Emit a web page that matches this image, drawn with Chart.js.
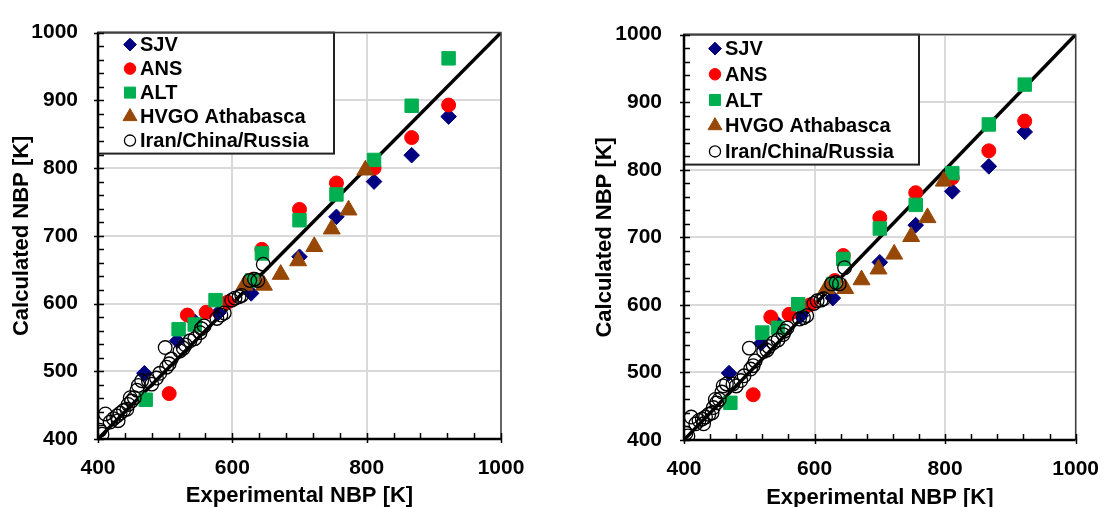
<!DOCTYPE html>
<html>
<head>
<meta charset="utf-8">
<script src="https://cdn.jsdelivr.net/npm/chart.js@4.4.1/dist/chart.umd.min.js"></script>
<style>
  html, body { margin: 0; padding: 0; background: #fff; width: 1116px; height: 507px; overflow: hidden; }
  canvas { position: absolute; top: 0; }
  #panelA { left: 0; }
  #panelB { left: 558px; }
</style>
</head>
<body>
<canvas id="panelA" width="558" height="507"></canvas>
<canvas id="panelB" width="558" height="507"></canvas>
<script>
// ---- Axis ticks ----
const xTickValues = [400, 600, 800, 1000];
const yTickValues = [400, 500, 600, 700, 800, 900, 1000];
const parityLine = [400, 1000];

// ---- SJV ----
const sjvExp   = [469, 518, 544, 579, 628, 700, 755, 811, 867, 922];
const sjvCalcA = [497, 545, 573, 586, 615, 669, 728, 780, 819, 876];
const sjvCalcB = [499, 543, 571, 584, 610, 663, 718, 768, 805, 856];

// ---- ANS ----
const ansExp   = [506, 533, 561, 593, 631, 644, 700, 755, 811, 867, 922];
const ansCalcA = [467, 583, 587, 602, 636, 680, 739, 778, 800, 845, 893];
const ansCalcB = [467, 582, 586, 600, 636, 673, 729, 766, 788, 828, 872];

// ---- ALT ----
const altExp   = [471, 520, 544, 575, 629, 644, 700, 755, 811, 867, 922];
const altCalcA = [458, 562, 569, 605, 634, 674, 723, 761, 812, 892, 962];
const altCalcB = [455, 559, 566, 601, 631, 668, 713, 748, 795, 867, 926];

// ---- HVGO Athabasca ----
const hvgoExp   = [618, 647, 672, 698, 722, 748, 773, 798];
const hvgoCalcA = [627, 627, 643, 663, 684, 710, 738, 797];
const hvgoCalcB = [624, 624, 637, 653, 675, 701, 729, 783];

// ---- Iran/China/Russia ----
const icrExp = [403, 406, 411, 418, 423, 428, 430, 433, 438, 443, 445, 448, 450, 454, 458,
                460, 465, 475, 480, 487, 492, 500, 502, 506, 509, 522, 527, 530, 537, 544,
                552, 554, 558, 577, 583, 588, 599, 604, 610, 614, 626, 633, 638, 646];
const icrCalcA = [413, 407, 437, 425, 430, 434, 427, 438, 442, 444, 451, 461, 456, 461, 472,
                  479, 486, 486, 481, 490, 497, 535, 506, 511, 518, 530, 534, 539, 545, 548,
                  557, 563, 567, 578, 583, 586, 605, 608, 610, 612, 634, 636, 634, 658];
const icrCalcB = [410, 406, 434, 424, 429, 431, 424, 434, 438, 440, 448, 460, 455, 460, 471,
                  480, 483, 483, 480, 488, 495, 536, 505, 510, 517, 531, 533, 538, 544, 548,
                  556, 561, 566, 579, 581, 584, 602, 606, 607, 609, 631, 633, 631, 655];

const FONT = "Arial, 'Liberation Sans', sans-serif";

function pts(xs, ys) { return xs.map((x, i) => ({ x: x, y: ys[i] })); }

function makeDatasets(sjv, ans, alt, hvgo, icr) {
  return [
    { label: 'SJV', data: pts(sjvExp, sjv), pointStyle: 'rectRot', pointRadius: 7.8,
      backgroundColor: '#000080', borderColor: '#000080', borderWidth: 1, order: 5 },
    { label: 'ANS', data: pts(ansExp, ans), pointStyle: 'circle', pointRadius: 7,
      backgroundColor: '#ff0000', borderColor: '#ff0000', borderWidth: 1, order: 4 },
    { label: 'ALT', data: pts(altExp, alt), pointStyle: 'rect', pointRadius: 9.5,
      backgroundColor: '#00b050', borderColor: '#00b050', borderWidth: 1, order: 3 },
    { label: 'HVGO Athabasca', data: pts(hvgoExp, hvgo), pointStyle: 'triangle', pointRadius: 9.8,
      backgroundColor: '#974706', borderColor: '#974706', borderWidth: 1, order: 2 },
    { label: 'Iran/China/Russia', data: pts(icrExp, icr), pointStyle: 'circle', pointRadius: 6.8,
      backgroundColor: 'rgba(0,0,0,0)', borderColor: '#000', borderWidth: 1.3, order: 1 },
    { label: 'y = x', data: pts(parityLine, parityLine), showLine: true, pointRadius: 0,
      borderColor: '#000', borderWidth: 3.5, inLegend: false, order: 6 }
  ];
}

// Legend drawn as a bordered box in the top-left corner of the plot area
const boxLegend = {
  id: 'boxLegend',
  afterDraw(chart, args, opts) {
    const ctx = chart.ctx, a = chart.chartArea;
    ctx.save();
    ctx.fillStyle = '#fff';
    ctx.fillRect(a.left, a.top, opts.width, opts.height);
    ctx.strokeStyle = '#222';
    ctx.lineWidth = 2;
    ctx.strokeRect(a.left, a.top, opts.width, opts.height);
    ctx.font = 'bold 20px ' + FONT;
    ctx.textBaseline = 'middle';
    ctx.textAlign = 'left';
    let row = 0;
    chart.data.datasets.forEach(ds => {
      if (ds.inLegend === false) return;
      const y = a.top + opts.firstRow + row * opts.rowGap;
      const x = a.left + opts.markerX;
      ctx.fillStyle = ds.backgroundColor;
      ctx.strokeStyle = ds.borderColor;
      ctx.lineWidth = ds.borderWidth;
      Chart.helpers.drawPoint(ctx, { pointStyle: ds.pointStyle, radius: ds.pointRadius * 0.82,
        rotation: 0, borderWidth: ds.borderWidth }, x, y);
      ctx.fillStyle = '#000';
      ctx.fillText(ds.label, a.left + opts.textX, y + 1);
      row++;
    });
    ctx.restore();
  }
};

// Plot frame with inward minor/major tick marks
const plotFrame = {
  id: 'plotFrame',
  afterDraw(chart) {
    const ctx = chart.ctx, a = chart.chartArea;
    const xs = chart.scales.x, ys = chart.scales.y;
    ctx.save();
    ctx.strokeStyle = '#404040';
    ctx.lineWidth = 1.5;
    ctx.beginPath();
    ctx.moveTo(a.left, a.top); ctx.lineTo(a.right, a.top); ctx.lineTo(a.right, a.bottom);
    ctx.stroke();
    ctx.strokeStyle = '#000';
    ctx.lineWidth = 1.5;
    ctx.beginPath();
    for (let v = xs.min; v <= xs.max; v += 40) {
      const px = Math.round(xs.getPixelForValue(v)) + 0.5;
      const major = xTickValues.includes(v);
      ctx.moveTo(px, a.bottom + (major ? 4 : 0));
      ctx.lineTo(px, a.bottom - 6);
    }
    for (let v = ys.min; v <= ys.max; v += 20) {
      const py = Math.round(ys.getPixelForValue(v)) + 0.5;
      const major = yTickValues.includes(v);
      ctx.moveTo(a.left - (major ? 4 : 0), py);
      ctx.lineTo(a.left + 6, py);
    }
    ctx.stroke();
    ctx.lineWidth = 2.5;
    ctx.beginPath();
    ctx.moveTo(a.left, a.top); ctx.lineTo(a.left, a.bottom); ctx.lineTo(a.right, a.bottom);
    ctx.stroke();
    ctx.restore();
  }
};

function makeOptions(L) {
  const tickFont = { family: FONT, size: 21, weight: 'bold' };
  const titleFont = { family: FONT, size: 22, weight: 'bold' };
  return {
    responsive: false,
    animation: false,
    devicePixelRatio: 1,
    layout: { padding: { left: 0, right: L.padRight, top: L.padTop, bottom: 0 } },
    plugins: { legend: { display: false }, tooltip: { enabled: false }, boxLegend: L.legend },
    scales: {
      x: {
        type: 'linear', min: 400, max: 1000,
        afterFit: s => { s.height = L.xHeight; },
        afterBuildTicks: s => { s.ticks = xTickValues.map(v => ({ value: v })); },
        grid: { color: '#d9d9d9', lineWidth: 2, drawTicks: false },
        border: { display: false },
        ticks: { padding: 17, color: '#000', font: tickFont, maxRotation: 0, autoSkip: false,
                 callback: v => String(v) },
        title: { display: true, text: 'Experimental NBP [K]', color: '#000', font: titleFont,
                 padding: { top: 0, bottom: L.xTitlePad } }
      },
      y: {
        type: 'linear', min: 400, max: 1000,
        afterFit: s => { s.width = L.yWidth; },
        afterBuildTicks: s => { s.ticks = yTickValues.map(v => ({ value: v })); },
        grid: { color: '#d9d9d9', lineWidth: 2, drawTicks: false },
        border: { display: false },
        ticks: { padding: L.yTickPad, color: '#000', font: tickFont, autoSkip: false,
                 callback: v => String(v) },
        title: { display: true, text: 'Calculated NBP [K]', color: '#000', font: titleFont,
                 padding: { top: L.yTitlePad, bottom: 0 } }
      }
    }
  };
}

new Chart(document.getElementById('panelA'), {
  type: 'scatter',
  data: { datasets: makeDatasets(sjvCalcA, ansCalcA, altCalcA, hvgoCalcA, icrCalcA) },
  options: makeOptions({ padRight: 57, padTop: 22, xHeight: 68, yWidth: 98, yTickPad: 20,
    yTitlePad: 9, xTitlePad: -2,
    legend: { width: 236, height: 121, firstRow: 12, rowGap: 24, markerX: 32, textX: 42 } }),
  plugins: [boxLegend, plotFrame]
});

new Chart(document.getElementById('panelB'), {
  type: 'scatter',
  data: { datasets: makeDatasets(sjvCalcB, ansCalcB, altCalcB, hvgoCalcB, icrCalcB) },
  options: makeOptions({ padRight: 26, padTop: 20, xHeight: 67, yWidth: 126, yTickPad: 22,
    yTitlePad: 34, xTitlePad: -4,
    legend: { width: 235, height: 130, firstRow: 14, rowGap: 25.7, markerX: 31, textX: 41 } }),
  plugins: [boxLegend, plotFrame]
});
</script>
</body>
</html>
